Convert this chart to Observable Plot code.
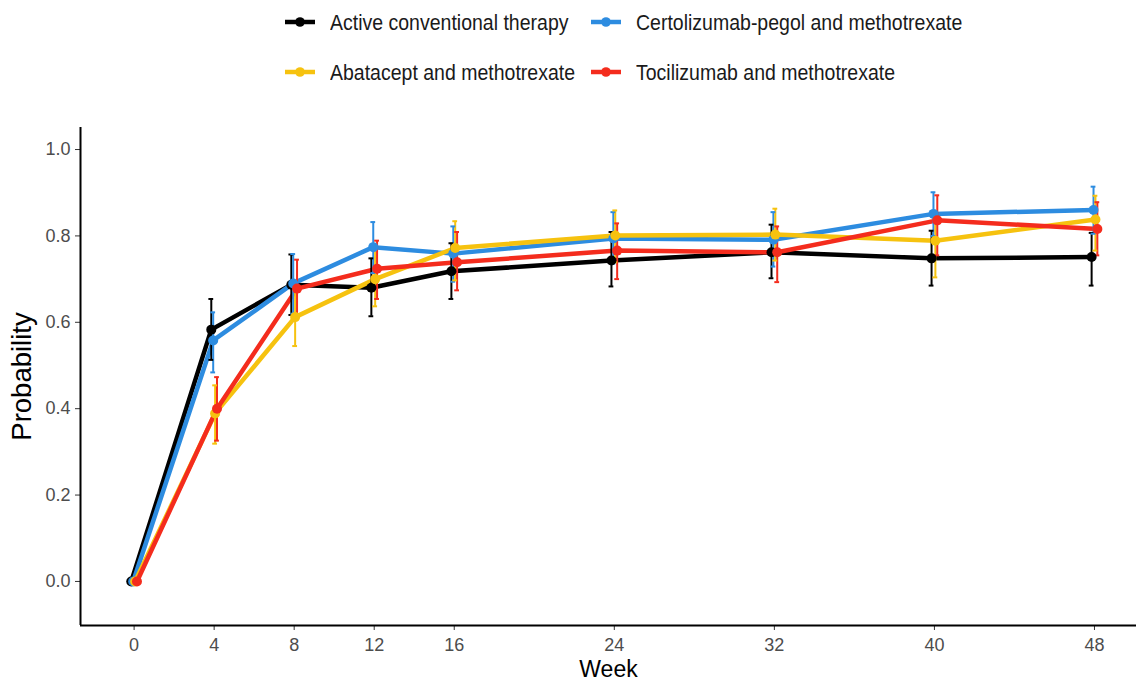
<!DOCTYPE html>
<html>
<head>
<meta charset="utf-8">
<script src="https://cdn.jsdelivr.net/npm/d3@7"></script>
<script src="https://cdn.jsdelivr.net/npm/@observablehq/plot@0.6"></script>
<style>
  html, body { margin: 0; padding: 0; background: #fff; }
  body { width: 1136px; height: 683px; overflow: hidden; font-family: "Liberation Sans", Arial, sans-serif; }
  #legend { position: relative; width: 1136px; height: 100px; }
  .item { position: absolute; display: flex; align-items: center; font-size: 19.5px; color: #1a1a1a; white-space: nowrap; }
  .item svg { margin-right: 14px; }
  .item span { display: inline-block; transform: scaleY(1.12); }
</style>
</head>
<body>
<div id="legend"></div>
<div id="chart"></div>
<script>
const weeks = [0, 4, 8, 12, 16, 24, 32, 40, 48];
const seriesNames = [
  "Active conventional therapy",
  "Certolizumab-pegol and methotrexate",
  "Abatacept and methotrexate",
  "Tocilizumab and methotrexate"
];
const seriesColors = ["#000000", "#2D8CE0", "#F6C20F", "#F42C1D"];

const activeMean  = [0, 0.583, 0.687, 0.680, 0.718, 0.743, 0.762, 0.748, 0.751];
const activeLow   = [0, 0.513, 0.617, 0.614, 0.654, 0.683, 0.702, 0.685, 0.685];
const activeHigh  = [0, 0.654, 0.757, 0.748, 0.783, 0.809, 0.826, 0.812, 0.807];

const certoMean   = [0, 0.558, 0.690, 0.774, 0.759, 0.794, 0.791, 0.851, 0.860];
const certoLow    = [0, 0.484, 0.620, 0.714, 0.694, 0.736, 0.729, 0.800, 0.805];
const certoHigh   = [0, 0.623, 0.758, 0.832, 0.822, 0.855, 0.855, 0.901, 0.914];

const abataMean   = [0, 0.389, 0.612, 0.700, 0.772, 0.801, 0.803, 0.789, 0.838];
const abataLow    = [0, 0.319, 0.545, 0.637, 0.697, 0.739, 0.743, 0.704, 0.766];
const abataHigh   = [0, 0.454, 0.680, 0.770, 0.834, 0.859, 0.863, 0.843, 0.893];

const tociMean    = [0, 0.400, 0.678, 0.724, 0.739, 0.766, 0.762, 0.836, 0.816];
const tociLow     = [0, 0.326, 0.608, 0.654, 0.674, 0.700, 0.693, 0.755, 0.755];
const tociHigh    = [0, 0.473, 0.745, 0.789, 0.809, 0.829, 0.822, 0.894, 0.878];

const yTicks = [0, 0.2, 0.4, 0.6, 0.8, 1.0];
const xTicks = weeks;

// layout constants
const dodgeOffsets = [-0.143, -0.048, 0.048, 0.143];
const capHalf = 0.12;
const xDomain = [-2.68, 50.1];
const yDomain = [-0.102, 1.051];

const means = [activeMean, certoMean, abataMean, tociMean];
const lows = [activeLow, certoLow, abataLow, tociLow];
const highs = [activeHigh, certoHigh, abataHigh, tociHigh];

const rows = [];
seriesNames.forEach((s, i) => {
  weeks.forEach((w, j) => {
    rows.push({series: s, order: i, week: w, xd: w + dodgeOffsets[i], y: means[i][j], lo: lows[i][j], hi: highs[i][j]});
  });
});

// legend
const legend = document.getElementById("legend");
const legendPos = [[284, 22], [590, 22], [284, 72], [590, 72]];
seriesNames.forEach((s, i) => {
  const div = document.createElement("div");
  div.className = "item";
  div.style.left = legendPos[i][0] + "px";
  div.style.top = (legendPos[i][1] - 12) + "px";
  div.style.height = "24px";
  div.innerHTML = `<svg width="32" height="24"><line x1="1" x2="31" y1="12" y2="12" stroke="${seriesColors[i]}" stroke-width="4.5"/><circle cx="16" cy="12" r="4.8" fill="${seriesColors[i]}"/></svg><span>${s}</span>`;
  legend.appendChild(div);
});

const color = {domain: seriesNames, range: seriesColors};

const plot = Plot.plot({
  width: 1136,
  height: 583,
  marginLeft: 80,
  marginRight: 0,
  marginTop: 27,
  marginBottom: 58,
  style: {fontFamily: "'Liberation Sans', Arial, sans-serif", background: "#fff"},
  x: {domain: xDomain},
  y: {domain: yDomain},
  color: color,
  marks: [
    Plot.axisX({ticks: xTicks, tickSize: 5, tickPadding: 8, fontSize: 18, color: "#4d4d4d", stroke: "#333", label: null}),
    Plot.axisY({ticks: yTicks, tickSize: 5, tickPadding: 5, fontSize: 18, color: "#4d4d4d", stroke: "#333", tickFormat: d3.format(".1f"), label: null}),
    Plot.ruleX([xDomain[0]], {stroke: "#000", strokeWidth: 2}),
    Plot.ruleY([yDomain[0]], {stroke: "#000", strokeWidth: 2}),
    Plot.line(rows, {x: "xd", y: "y", z: "series", stroke: "series", strokeWidth: 4.5, strokeLinejoin: "round"}),
    Plot.ruleX(rows.filter(d => d.hi > d.lo), {x: "xd", y1: "lo", y2: "hi", stroke: "series", strokeWidth: 2}),
    Plot.ruleY(rows.filter(d => d.hi > d.lo), {y: "hi", x1: d => d.xd - capHalf, x2: d => d.xd + capHalf, stroke: "series", strokeWidth: 2}),
    Plot.ruleY(rows.filter(d => d.hi > d.lo), {y: "lo", x1: d => d.xd - capHalf, x2: d => d.xd + capHalf, stroke: "series", strokeWidth: 2}),
    Plot.dot(rows, {x: "xd", y: "y", fill: "series", r: 5}),
    Plot.text(["Week"], {frameAnchor: "bottom", lineAnchor: "middle", dy: 44, fontSize: 23, fill: "#000"}),
    Plot.text(["Probability"], {frameAnchor: "left", textAnchor: "middle", lineAnchor: "middle", dx: -58, rotate: -90, fontSize: 27.5, fill: "#000"})
  ]
});
document.getElementById("chart").appendChild(plot);
</script>
</body>
</html>
